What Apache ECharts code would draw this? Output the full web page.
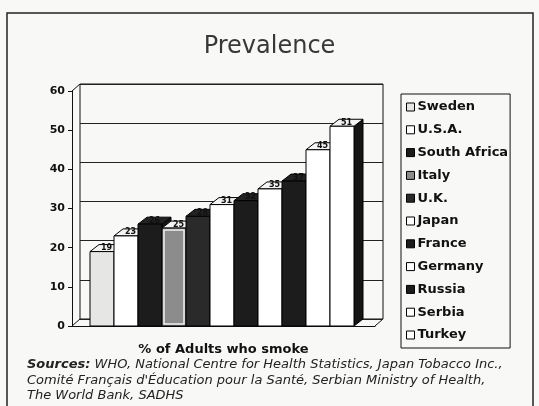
<!DOCTYPE html>
<html>
<head>
<meta charset="utf-8">
<script src="https://cdn.jsdelivr.net/npm/echarts@6/dist/echarts.min.js"></script>
<style>
  html, body { margin: 0; padding: 0; background: #f8f8f6; }
  #chart { width: 539px; height: 406px; }
</style>
</head>
<body>
<div id="chart"></div>
<script>
var myChart = echarts.init(document.getElementById('chart'));

// countries (one series each, as in the legend)
var countries = ['Sweden', 'U.S.A.', 'South Africa', 'Italy', 'U.K.', 'Japan',
                 'France', 'Germany', 'Russia', 'Serbia', 'Turkey'];
// % of adults who smoke
var smokers = [19, 23, 26, 25, 28, 31, 32, 35, 37, 45, 51];
var fills = ['#e6e6e4', '#ffffff', '#1c1c1c', '#8c8c8c', '#2a2a2a', '#ffffff',
             '#1c1c1c', '#ffffff', '#1c1c1c', '#ffffff', '#ffffff'];
var yTicks = [0, 10, 20, 30, 40, 50, 60];

var DX = 9, DY = 7;   // depth offset of the fake 3d

function makeRender(fill, inner) {
    return function (params, api) {
        var p = api.coord([api.value(0), api.value(1)]);
        var b = api.coord([api.value(0), 0]);
        var w = api.size([1, 0])[0];
        var x0 = p[0] - w / 2, x1 = p[0] + w / 2, yt = p[1], yb = b[1];
        var dark = fill !== '#ffffff' && fill !== '#e6e6e4' && fill !== '#8c8c8c';
        var kids = [
            {
                type: 'polygon',
                shape: { points: [[x1, yt], [x1 + DX, yt - DY], [x1 + DX, yb - DY], [x1, yb]] },
                style: { fill: '#151515', stroke: '#000', lineWidth: 1 }
            },
            {
                type: 'polygon',
                shape: { points: [[x0, yt], [x0 + DX, yt - DY], [x1 + DX, yt - DY], [x1, yt]] },
                style: { fill: dark ? '#222' : '#f4f4f4', stroke: '#000', lineWidth: 1 }
            },
            {
                type: 'rect',
                shape: { x: x0, y: yt, width: w, height: yb - yt },
                style: { fill: fill, stroke: '#000', lineWidth: 1 }
            }
        ];
        if (inner) {
            kids.push({
                type: 'rect',
                shape: { x: x0 + 2, y: yt + 2, width: w - 4, height: yb - yt - 4 },
                style: { fill: 'none', stroke: '#eeeeee', lineWidth: 1.5 }
            });
        }
        kids.push({
            type: 'text',
            style: {
                text: String(api.value(1)),
                x: p[0] + DX / 2, y: yt - DY / 2,
                align: 'center', verticalAlign: 'middle',
                font: 'bold 8px "DejaVu Sans"', fill: '#111'
            }
        });
        return { type: 'group', children: kids };
    };
}

var series = countries.map(function (name, i) {
    return {
        name: name,
        type: 'custom',
        xAxisIndex: 1,
        yAxisIndex: 1,
        itemStyle: { color: fills[i], borderColor: '#000', borderWidth: 1 },
        renderItem: makeRender(fills[i], name === 'Italy'),
        data: [[i, smokers[i]]]
    };
});

option = {
    backgroundColor: '#f8f8f6',
    animation: false,
    title: {
        text: 'Prevalence',
        left: 'center',
        top: 30,
        textStyle: { fontFamily: 'DejaVu Sans', fontSize: 24, fontWeight: 'normal', color: '#383838' }
    },
    legend: {
        orient: 'vertical',
        left: 401,
        top: 94,
        selectedMode: false,
        borderColor: '#111',
        borderWidth: 1,
        padding: [6, 2, 6, 5],
        itemWidth: 8,
        itemHeight: 8,
        itemGap: 8.8,
        icon: 'rect',
        data: countries.map(function (c, i) {
            return { name: c, itemStyle: { color: fills[i], borderColor: '#000', borderWidth: 1 } };
        }),
        textStyle: { fontFamily: 'DejaVu Sans', fontSize: 13, fontWeight: 'bold', color: '#111', lineHeight: 14, padding: [0, 0, 0, -2] }
    },
    grid: [
        // back wall
        { left: 80, right: 156, top: 84, bottom: 87, show: true, borderColor: '#111', borderWidth: 1 },
        // front plane
        { left: 72, right: 164, top: 91, bottom: 80 }
    ],
    xAxis: [
        { gridIndex: 0, type: 'value', show: false, min: 0, max: 1 },
        {
            gridIndex: 1, type: 'value', min: -1.25, max: 11.375,
            axisLine: { show: true, onZero: false, lineStyle: { color: '#111', width: 1 } },
            axisTick: { show: false }, axisLabel: { show: false }, splitLine: { show: false },
            name: '% of Adults who smoke', nameLocation: 'middle', nameGap: 17,
            nameTextStyle: { fontFamily: 'DejaVu Sans', fontSize: 13, fontWeight: 'bold', color: '#111' }
        }
    ],
    yAxis: [
        {
            gridIndex: 0, type: 'value', min: 0, max: 60, interval: 10,
            axisLine: { show: false }, axisTick: { show: false }, axisLabel: { show: false },
            splitLine: { show: true, lineStyle: { color: '#222', width: 1 } }
        },
        {
            gridIndex: 1, type: 'value', min: 0, max: 60, interval: 10,
            axisLine: { show: true, onZero: false, lineStyle: { color: '#111', width: 1 } },
            axisTick: { show: true, length: 4, lineStyle: { color: '#111' } },
            splitLine: { show: false },
            axisLabel: {
                margin: 7, fontFamily: 'DejaVu Sans', fontSize: 11, fontWeight: 'bold', color: '#111',
                formatter: function (v) { return yTicks.indexOf(v) >= 0 ? String(v) : ''; }
            }
        }
    ],
    graphic: [
        { type: 'rect', shape: { x: 7, y: 13, width: 526, height: 400 }, style: { fill: 'none', stroke: '#222', lineWidth: 1.5 }, z: 0 },
        { type: 'line', shape: { x1: 72, y1: 91, x2: 80, y2: 84 }, style: { stroke: '#111', lineWidth: 1 } },
        { type: 'line', shape: { x1: 72, y1: 326, x2: 80, y2: 319 }, style: { stroke: '#111', lineWidth: 1 } },
        { type: 'line', shape: { x1: 375, y1: 326, x2: 383, y2: 319 }, style: { stroke: '#111', lineWidth: 1 } },
        {
            type: 'text', left: 27, top: 357,
            style: {
                text: '{b|Sources:} WHO, National Centre for Health Statistics, Japan Tobacco Inc.,\n' +
                      'Comité Français d\'Éducation pour la Santé, Serbian Ministry of Health,\n' +
                      'The World Bank, SADHS',
                rich: { b: { fontWeight: 'bold', fontStyle: 'italic', fontSize: 13, fontFamily: 'DejaVu Sans', lineHeight: 15.5 } },
                fontFamily: 'DejaVu Sans', fontStyle: 'italic', fontSize: 13, lineHeight: 15.5, fill: '#222'
            }
        }
    ],
    series: series
};

myChart.setOption(option);
</script>
</body>
</html>
